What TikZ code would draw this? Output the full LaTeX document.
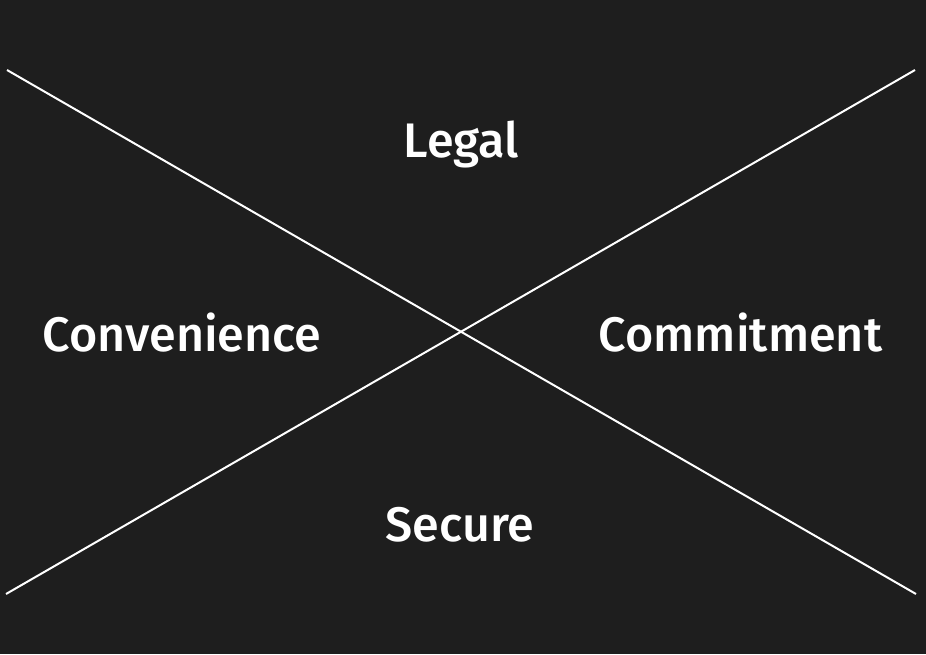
\documentclass[tikz,border=0pt]{standalone}
\usepackage{fontspec}
\setmainfont{Fira Sans}
\newfontfamily\labelfont{Fira Sans Medium}
\usetikzlibrary{positioning}
\definecolor{bgdark}{HTML}{1E1E1E}

\begin{document}
\begin{tikzpicture}[
    x=1pt, y=-1pt,
    every path/.style={line width=2pt},
    cross/.style={draw=white, line width=2pt},
    quadlabel/.style={text=white, font=\labelfont\fontsize{48.5}{56}\selectfont,
                      anchor=base, inner sep=0pt}
]

\fill[bgdark] (0,0) rectangle (926,654);
\useasboundingbox (0,0) rectangle (926,654);

% end points of the two diagonals
\coordinate (topleft)  at (7,70);
\coordinate (botright) at (916,594);
\coordinate (botleft)  at (6,594);
\coordinate (topright) at (915,70);

\draw[cross] (topleft) -- (botright);
\draw[cross] (botleft) -- (topright);

\node[quadlabel] (legal)  at (461.5,157) {Legal};
\node[quadlabel] (conv)   at (182,351) {Convenience};
\node[quadlabel] (commit) at (740.5,351) {Commitment};
\node[quadlabel] (secure) at (460,541) {Secure};

\end{tikzpicture}
\end{document}
